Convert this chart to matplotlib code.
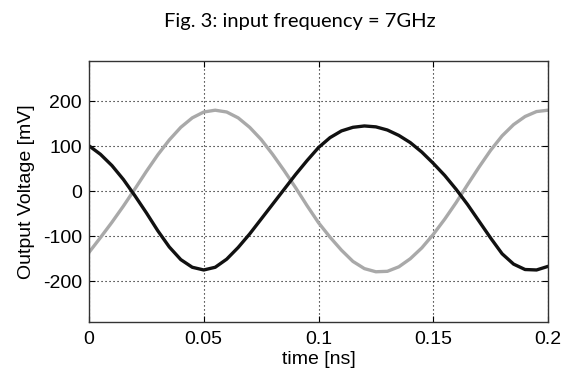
import matplotlib
matplotlib.use("Agg")
import matplotlib.pyplot as plt

# data -----------------------------------------------
time_ns = [0.000, 0.005, 0.010, 0.015, 0.020, 0.025, 0.030, 0.035, 0.040, 0.045,
           0.050, 0.055, 0.060, 0.065, 0.070, 0.075, 0.080, 0.085, 0.090, 0.095,
           0.100, 0.105, 0.110, 0.115, 0.120, 0.125, 0.130, 0.135, 0.140, 0.145,
           0.150, 0.155, 0.160, 0.165, 0.170, 0.175, 0.180, 0.185, 0.190, 0.195,
           0.200]

# black trace [mV]
out_black = [101, 82, 57, 26, -10, -48, -88, -124, -152, -169,
             -175, -169, -151, -125, -95, -62, -29, 4, 37, 68,
             97, 119, 134, 142, 145, 143, 136, 124, 108, 87,
             62, 35, 4, -30, -67, -104, -139, -162, -174, -175,
             -167]

# gray trace [mV]
out_gray = [-136, -103, -69, -33, 5, 44, 81, 114, 142, 163,
            176, 180, 176, 163, 142, 115, 82, 46, 8, -32,
            -70, -102, -131, -156, -172, -179, -178, -168, -150, -126,
            -96, -62, -25, 15, 54, 91, 123, 148, 166, 177,
            180]

x_ticks = [0, 0.05, 0.1, 0.15, 0.2]
x_ticklabels = ["0", "0.05", "0.1", "0.15", "0.2"]
y_ticks = [-200, -100, 0, 100, 200]

# ----------------------------------------------------
# plot
# ----------------------------------------------------
plt.rcParams['font.family'] = ['Liberation Sans', 'DejaVu Sans']
plt.rc('axes', unicode_minus=False)  # plain hyphen like the original

fig = plt.figure(figsize=(5.73, 3.83), dpi=100)
ax = fig.add_axes([0.1553, 0.160, 0.8011, 0.6815])

ax.plot(time_ns, out_gray, color="#a9a9a9", lw=2.4, solid_joinstyle="round")
ax.plot(time_ns, out_black, color="#111111", lw=2.4, solid_joinstyle="round")

ax.set_xlim(0, 0.2)
ax.set_ylim(-290, 290)
ax.set_xticks(x_ticks)
ax.set_xticklabels(x_ticklabels)
ax.set_yticks(y_ticks)

ax.grid(True, color="black", linestyle=(0, (1, 2.6)), linewidth=0.8)
ax.tick_params(direction="in", top=True, right=True, length=4,
               labelsize=14, colors="black")
ax.tick_params(axis="x", pad=7)
ax.tick_params(axis="y", pad=5)
for s in ax.spines.values():
    s.set_color("#333333")
    s.set_linewidth(1.0)

ax.set_xlabel("time [ns]", fontsize=14, labelpad=2)
ax.set_ylabel("Output Voltage [mV]", fontsize=14, labelpad=6)

fig.text(0.524, 0.945, "Fig. 3: input frequency = 7GHz", ha="center", va="center",
         fontsize=14.5, family=["Lato", "DejaVu Sans"])

fig.savefig("out.png", dpi=100)
